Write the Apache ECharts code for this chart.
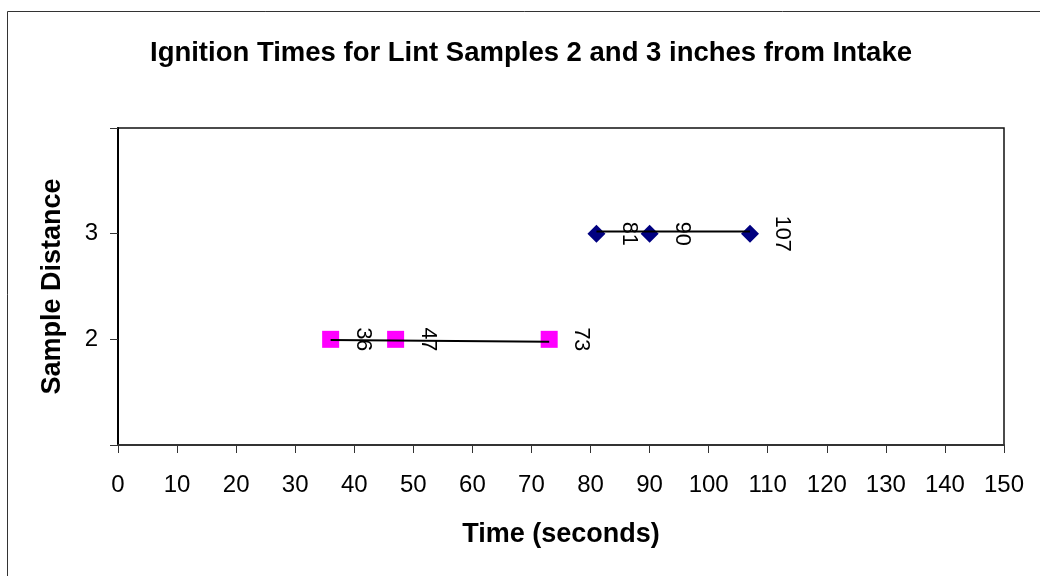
<!DOCTYPE html>
<html>
<head>
<meta charset="utf-8">
<script src="https://cdn.jsdelivr.net/npm/echarts@6/dist/echarts.min.js"></script>
<style>
  html, body { margin: 0; padding: 0; background: #fff; }
  #chart { width: 1040px; height: 576px; }
</style>
</head>
<body>
<div id="chart"></div>
<script>
// 2 inch samples (pink squares)
const time2in = [36, 47, 73];
const dist2in = [2, 2, 2];
// 3 inch samples (navy diamonds)
const time3in = [81, 90, 107];
const dist3in = [3, 3, 3];
// trend lines, start/end
const trend2inX = [36, 73];
const trend2inY = [1.993, 1.978];
const trend3inX = [81, 107];
const trend3inY = [3.02, 3.02];
// x ticks 0..150 step 10, y ticks 1..4 with only 2 and 3 labelled
const yLabelled = [2, 3];

const FONT = '"Liberation Sans", Arial, sans-serif';
const chart = echarts.init(document.getElementById('chart'));

const pairs = (xs, ys) => xs.map((x, i) => [x, ys[i]]);

// label turned clockwise, so the offset is given in the turned frame
const pointLabel = {
  show: true,
  position: 'inside',
  rotate: -90,
  offset: [0, -32],
  align: 'center',
  verticalAlign: 'middle',
  color: '#000',
  fontFamily: FONT,
  fontSize: 21.5,
  formatter: p => p.value[0]
};

chart.setOption({
  animation: false,
  backgroundColor: '#fff',
  graphic: [{
    type: 'rect',
    shape: { x: 7.5, y: 11.5, width: 1100, height: 700 },
    style: { fill: 'none', stroke: '#333', lineWidth: 1 },
    z: -1
  }],
  title: {
    text: 'Ignition Times for Lint Samples 2 and 3 inches from Intake',
    left: 526,
    top: 34,
    textAlign: 'center',
    textStyle: { fontFamily: FONT, fontSize: 27.5, fontWeight: 'bold', color: '#000' }
  },
  grid: {
    left: 118,
    top: 128,
    right: 36,
    bottom: 131,
    show: true,
    borderColor: '#111',
    borderWidth: 1.5
  },
  xAxis: {
    type: 'value',
    min: 0,
    max: 150,
    interval: 10,
    name: 'Time (seconds)',
    nameLocation: 'middle',
    nameGap: 76,
    nameTextStyle: { fontFamily: FONT, fontSize: 27, fontWeight: 'bold', color: '#000' },
    axisLine: { show: true, lineStyle: { color: '#333', width: 2 } },
    axisTick: { show: true, inside: false, length: 8, lineStyle: { color: '#333', width: 1 } },
    axisLabel: { color: '#000', fontFamily: FONT, fontSize: 24, margin: 28 },
    splitLine: { show: false }
  },
  yAxis: {
    type: 'value',
    min: 1,
    max: 4,
    interval: 1,
    name: 'Sample Distance',
    nameLocation: 'middle',
    nameGap: 52,
    nameTextStyle: { fontFamily: FONT, fontSize: 27, fontWeight: 'bold', color: '#000' },
    axisLine: { show: true, lineStyle: { color: '#000', width: 2 } },
    axisTick: { show: true, inside: false, length: 8, lineStyle: { color: '#333', width: 1 } },
    axisLabel: {
      color: '#000',
      fontFamily: FONT,
      fontSize: 24,
      margin: 20,
      formatter: v => (yLabelled.indexOf(v) >= 0 ? String(v) : '')
    },
    splitLine: { show: false }
  },
  series: [{
    name: 'trend 2in',
    type: 'line',
    data: pairs(trend2inX, trend2inY),
    symbol: 'none',
    lineStyle: { color: '#000', width: 2 },
    z: 3
  }, {
    name: 'trend 3in',
    type: 'line',
    data: pairs(trend3inX, trend3inY),
    symbol: 'none',
    lineStyle: { color: '#000', width: 2 },
    z: 3
  }, {
    name: '2 inches',
    type: 'scatter',
    data: pairs(time2in, dist2in),
    symbol: 'rect',
    symbolSize: 17,
    itemStyle: { color: '#FF00FF', opacity: 1 },
    label: pointLabel,
    z: 2
  }, {
    name: '3 inches',
    type: 'scatter',
    data: pairs(time3in, dist3in),
    symbol: 'diamond',
    symbolSize: [18, 18],
    itemStyle: { color: '#000080', opacity: 1 },
    label: pointLabel,
    z: 2
  }]
});
</script>
</body>
</html>
